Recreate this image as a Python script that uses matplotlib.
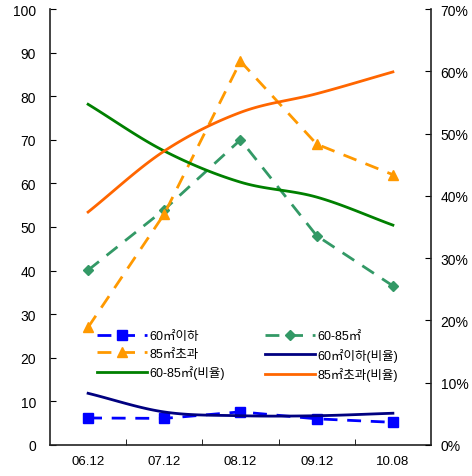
import numpy as np
import matplotlib
matplotlib.use("Agg")
import matplotlib.pyplot as plt

plt.rcParams['font.family'] = ['Liberation Sans', 'Noto Sans CJK KR', 'DejaVu Sans']

categories = ["06.12", "07.12", "08.12", "09.12", "10.08"]
small = [6.2, 6.1, 7.6, 6.0, 5.2]          # 60㎡이하
mid = [40.1, 54.0, 70.0, 48.0, 36.5]       # 60-85㎡
large = [27.0, 53.0, 88.0, 69.0, 62.0]     # 85㎡초과
small_ratio = [8.3, 5.3, 4.7, 4.7, 5.1]    # 60㎡이하(비율) %
mid_ratio = [54.7, 47.2, 42.2, 39.8, 35.3] # 60-85㎡(비율) %
large_ratio = [37.4, 47.2, 53.4, 56.4, 59.9]  # 85㎡초과(비율) %

labels = ["60㎡이하", "60-85㎡", "85㎡초과", "60㎡이하(비율)", "60-85㎡(비율)", "85㎡초과(비율)"]


def smooth(x, y, n=20):
    x = np.asarray(x, float); y = np.asarray(y, float)
    P = np.column_stack([x, y])
    P = np.vstack([2 * P[0] - P[1], P, 2 * P[-1] - P[-2]])
    out = []
    for i in range(1, len(P) - 2):
        p0, p1, p2, p3 = P[i - 1], P[i], P[i + 1], P[i + 2]
        t = np.linspace(0, 1, n, endpoint=(i == len(P) - 3))[:, None]
        c = 0.5 * ((2 * p1) + (-p0 + p2) * t + (2 * p0 - 5 * p1 + 4 * p2 - p3) * t ** 2
                   + (-p0 + 3 * p1 - 3 * p2 + p3) * t ** 3)
        out.append(c)
    out = np.vstack(out)
    return out[:, 0], out[:, 1]


fig = plt.figure(figsize=(4.72, 4.77), dpi=100)
ax = fig.add_axes([50 / 472, 1 - 446 / 477, 381 / 472, 436 / 477])
ax2 = ax.twinx()

x = np.arange(len(categories))
dash = (0, (5, 3.5))

l1, = ax.plot(x, small, color="#0000FF", ls=dash, lw=2, marker="s", ms=7, label=labels[0])
l2, = ax.plot(x, mid, color="#339966", ls=dash, lw=2, marker="D", ms=5, label=labels[1])
l3, = ax.plot(x, large, color="#FF9900", ls=dash, lw=2, marker="^", ms=7, label=labels[2])

sx, sy = smooth(x, small_ratio)
l4, = ax2.plot(sx, sy, color="#000080", lw=2, label=labels[3])
sx, sy = smooth(x, mid_ratio)
l5, = ax2.plot(sx, sy, color="#008000", lw=2, label=labels[4])
sx, sy = smooth(x, large_ratio)
l6, = ax2.plot(sx, sy, color="#FF6600", lw=2, label=labels[5])

ax.set_xlim(-0.5, len(categories) - 0.5)
ax.set_ylim(0, 100)
ax.set_yticks(np.arange(0, 101, 10))
ax2.set_ylim(0, 70)
ax2.set_yticks(np.arange(0, 71, 10))
ax2.set_yticklabels([f"{v}%" for v in range(0, 71, 10)])

ax.set_xticks(x)
ax.set_xticklabels(categories)
ax.set_xticks(np.arange(0.5, len(categories) - 1, 1), minor=True)
ax.tick_params(axis="x", which="major", length=0, labelsize=9.5, pad=7)
ax.tick_params(axis="x", which="minor", length=4, direction="in")
ax.tick_params(axis="y", direction="in", length=4, labelsize=10, pad=10)
ax2.tick_params(axis="y", direction="in", length=4, labelsize=10, pad=7)

for a in (ax, ax2):
    a.spines["top"].set_visible(False)
    for s in ("left", "right", "bottom"):
        a.spines[s].set_linewidth(1.2)
        a.spines[s].set_color("#222222")
ax.spines["right"].set_visible(False)
ax2.spines["left"].set_visible(False)
ax2.spines["bottom"].set_visible(False)

handles = [l1, l3, l5, l2, l4, l6]
leg = ax.legend(handles=handles, labels=[h.get_label() for h in handles], ncol=2,
                loc="upper left", bbox_to_anchor=(0.11, 0.275), frameon=False,
                fontsize=9, handlelength=4.0, handletextpad=0.2, columnspacing=3.2,
                labelspacing=0.45, borderaxespad=0)

fig.savefig("out.png", dpi=100)
